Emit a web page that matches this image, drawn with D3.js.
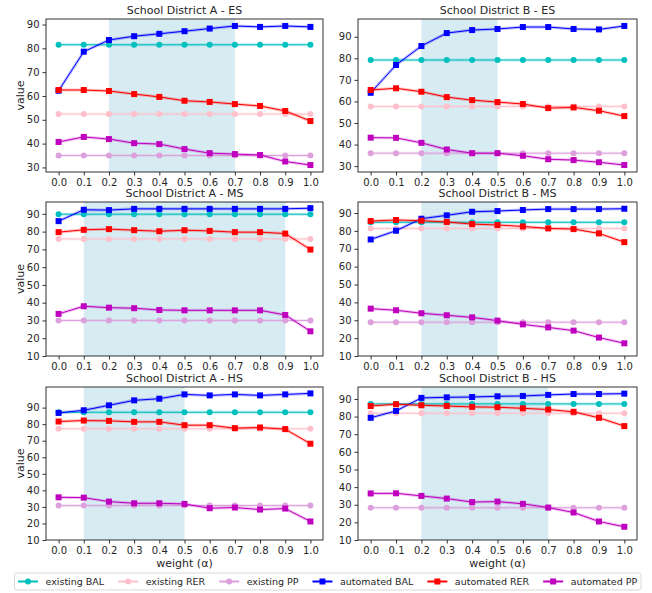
<!DOCTYPE html>
<html>
<head>
    <style>
        body { margin: 0; background: #fff; }
        svg text { font-family: "DejaVu Sans", sans-serif; fill: #262626; }
        .tick text { font-size: 10px; }
        .title { font-size: 11px; text-anchor: middle; }
        .lab { font-size: 11px; text-anchor: middle; }
    </style>
    <script src="https://d3js.org/d3.v7.min.js"></script>
</head>
<body>
    <svg width="652" height="593"></svg>
    <script>

        // weights on the x axis
        var weights = [0.0, 0.1, 0.2, 0.3, 0.4, 0.5, 0.6, 0.7, 0.8, 0.9, 1.0];

        // panels in order: A-ES, B-ES, A-MS, B-MS, A-HS, B-HS
        var panelTitles = ["School District A - ES", "School District B - ES",
                           "School District A - MS", "School District B - MS",
                           "School District A - HS", "School District B - HS"];

        var shadeFrom = [0.2, 0.2, 0.1, 0.2, 0.1, 0.2];
        var shadeTo   = [0.7, 0.5, 0.9, 0.5, 0.5, 0.7];

        var yTicksTop = [30, 40, 50, 60, 70, 80, 90];
        var yTicksLow = [10, 20, 30, 40, 50, 60, 70, 80, 90];

        // existing (baseline) values, flat across weights
        var existingBAL = [81.5, 79.2, 89.8, 84.8, 87.2, 87.2];
        var existingRER = [52.4, 57.7, 75.9, 81.4, 77.2, 81.9];
        var existingPP  = [35.0, 36.0, 30.0, 28.9, 30.8, 28.3];

        var automatedBAL = [
            [62.2, 78.6, 83.5, 85.1, 86.1, 87.2, 88.3, 89.4, 89.0, 89.4, 89.0],
            [64.0, 76.9, 85.7, 91.7, 93.1, 93.6, 94.5, 94.5, 93.6, 93.4, 95.0],
            [85.9, 92.3, 92.1, 92.8, 92.8, 92.8, 92.8, 92.8, 92.8, 92.8, 93.2],
            [75.2, 80.1, 86.8, 88.7, 90.7, 91.1, 91.7, 92.2, 92.2, 92.2, 92.4],
            [86.8, 88.4, 91.4, 94.4, 95.4, 98.0, 97.4, 98.0, 97.4, 98.0, 98.6],
            [79.3, 83.2, 90.6, 90.9, 91.1, 91.5, 91.7, 92.3, 92.8, 92.8, 93.0]
        ];

        var automatedRER = [
            [62.5, 62.5, 62.1, 60.8, 59.6, 58.0, 57.5, 56.6, 55.8, 53.7, 49.5],
            [65.3, 66.1, 64.5, 62.0, 60.6, 59.7, 58.8, 56.9, 57.2, 55.7, 53.2],
            [79.7, 81.0, 81.4, 80.8, 80.2, 80.8, 80.4, 79.7, 79.7, 78.9, 69.9],
            [85.5, 86.1, 85.7, 85.0, 83.8, 83.3, 82.5, 81.4, 81.0, 78.6, 73.7],
            [81.6, 82.2, 82.0, 81.4, 81.4, 79.4, 79.4, 77.6, 78.0, 77.0, 68.2],
            [86.0, 87.0, 86.4, 86.0, 85.5, 85.3, 84.7, 84.0, 82.7, 79.3, 74.6]
        ];

        var automatedPP = [
            [40.7, 42.8, 41.9, 40.2, 39.8, 37.7, 36.0, 35.6, 35.2, 32.5, 31.0],
            [43.2, 43.1, 40.8, 37.7, 36.0, 36.0, 34.8, 33.2, 32.8, 31.8, 30.5],
            [33.7, 38.0, 37.2, 36.9, 35.9, 35.7, 35.7, 35.7, 35.7, 33.1, 23.9],
            [36.5, 35.6, 33.9, 32.8, 31.6, 29.8, 27.7, 26.0, 24.2, 20.3, 17.1],
            [35.8, 35.6, 33.2, 32.2, 32.2, 31.8, 29.2, 29.6, 28.4, 29.0, 21.2],
            [36.4, 36.5, 35.0, 33.5, 31.5, 31.8, 30.5, 28.4, 25.6, 20.5, 17.5]
        ];

        var seriesNames  = ["existing BAL", "existing RER", "existing PP",
                            "automated BAL", "automated RER", "automated PP"];
        var seriesColors = ["#00bfbf", "#ffc0cb", "#dda0dd", "#0000ff", "#ff0000", "#bf00bf"];

        var svg = d3.select("svg");

        var colLeft = [46, 358], colRight = [323, 637];
        var rowTop = [19, 202, 387], rowBottom = [172, 356, 540];

        panelTitles.forEach(function(title, p) {
            var row = Math.floor(p / 2), col = p % 2;
            var x0 = colLeft[col], x1 = colRight[col], y0 = rowTop[row], y1 = rowBottom[row];

            var lines = [
                weights.map(function() { return existingBAL[p]; }),
                weights.map(function() { return existingRER[p]; }),
                weights.map(function() { return existingPP[p]; }),
                automatedBAL[p], automatedRER[p], automatedPP[p]
            ];
            var all = d3.merge(lines);
            var lo = d3.min(all), hi = d3.max(all), pad = (hi - lo) * 0.05;

            var x = d3.scaleLinear().domain([-0.05, 1.05]).range([x0, x1]);
            var y = d3.scaleLinear()
                      .domain([row === 0 ? lo - pad : 10, hi + pad])
                      .range([y1, y0]);

            var g = svg.append("g");

            g.append("rect")
             .attr("x", x(shadeFrom[p])).attr("y", y0)
             .attr("width", x(shadeTo[p]) - x(shadeFrom[p])).attr("height", y1 - y0)
             .attr("fill", "#add8e6").attr("fill-opacity", 0.5);

            lines.forEach(function(vals, s) {
                var pts = vals.map(function(v, i) { return [weights[i], v]; });
                var line = d3.line().x(function(d) { return x(d[0]); }).y(function(d) { return y(d[1]); });
                g.append("path").attr("d", line(pts)).attr("fill", "none")
                 .attr("stroke", seriesColors[s]).attr("stroke-width", 3).attr("stroke-opacity", 0.25);
                g.append("path").attr("d", line(pts)).attr("fill", "none")
                 .attr("stroke", seriesColors[s]).attr("stroke-width", 1);
                if (s < 3) {
                    g.selectAll(null).data(pts).enter().append("circle")
                     .attr("cx", function(d) { return x(d[0]); })
                     .attr("cy", function(d) { return y(d[1]); })
                     .attr("r", 3).attr("fill", seriesColors[s]);
                } else {
                    g.selectAll(null).data(pts).enter().append("rect")
                     .attr("x", function(d) { return x(d[0]) - 3; })
                     .attr("y", function(d) { return y(d[1]) - 3; })
                     .attr("width", 6).attr("height", 6).attr("fill", seriesColors[s]);
                }
            });

            var xAxis = g.append("g").attr("transform", "translate(0," + y1 + ")")
                         .call(d3.axisBottom(x).tickValues(weights).tickFormat(d3.format(".1f")).tickSizeOuter(0).tickSize(3.5).tickPadding(3));
            var yAxis = g.append("g").attr("transform", "translate(" + x0 + ",0)")
                         .call(d3.axisLeft(y).tickValues(row === 0 ? yTicksTop : yTicksLow).tickSizeOuter(0).tickSize(3.5).tickPadding(3));
            [xAxis, yAxis].forEach(function(a) {
                a.select(".domain").remove();
                a.selectAll(".tick line").attr("stroke", "#000").attr("stroke-width", 0.8);
                a.selectAll(".tick text").attr("fill", "#262626");
            });

            g.append("rect").attr("x", x0).attr("y", y0).attr("width", x1 - x0).attr("height", y1 - y0)
             .attr("fill", "none").attr("stroke", "#000").attr("stroke-width", 0.8);

            g.append("text").attr("class", "title")
             .attr("x", (x0 + x1) / 2).attr("y", y0 - 5).text(title);

            if (col === 0) {
                g.append("text").attr("class", "lab")
                 .attr("transform", "translate(20," + ((y0 + y1) / 2) + ") rotate(-90)")
                 .attr("dy", "0.35em").text("value");
            }
            if (row === 2) {
                g.append("text").attr("class", "lab")
                 .attr("x", (x0 + x1) / 2).attr("y", 567).text("weight (\u03b1)");
            }
        });

        // legend
        var leg = svg.append("g");
        leg.append("rect").attr("x", 14.5).attr("y", 573).attr("width", 626.5).attr("height", 17)
           .attr("rx", 2).attr("fill", "#fff").attr("stroke", "#d0d0d0").attr("stroke-width", 0.8);
        var cx = 18;
        seriesNames.forEach(function(name, s) {
            var ly = 581.5;
            leg.append("line").attr("x1", cx).attr("x2", cx + 20).attr("y1", ly).attr("y2", ly)
               .attr("stroke", seriesColors[s]).attr("stroke-width", 2);
            if (s < 3) {
                leg.append("circle").attr("cx", cx + 10).attr("cy", ly).attr("r", 3).attr("fill", seriesColors[s]);
            } else {
                leg.append("rect").attr("x", cx + 7).attr("y", ly - 3).attr("width", 6).attr("height", 6).attr("fill", seriesColors[s]);
            }
            var t = leg.append("text").attr("x", cx + 27.5).attr("y", ly).attr("dy", "0.35em")
                       .style("font-size", "9.5px").text(name);
            cx += 27.5 + t.node().getComputedTextLength() + 14;
        });

    </script>
</body>
</html>
